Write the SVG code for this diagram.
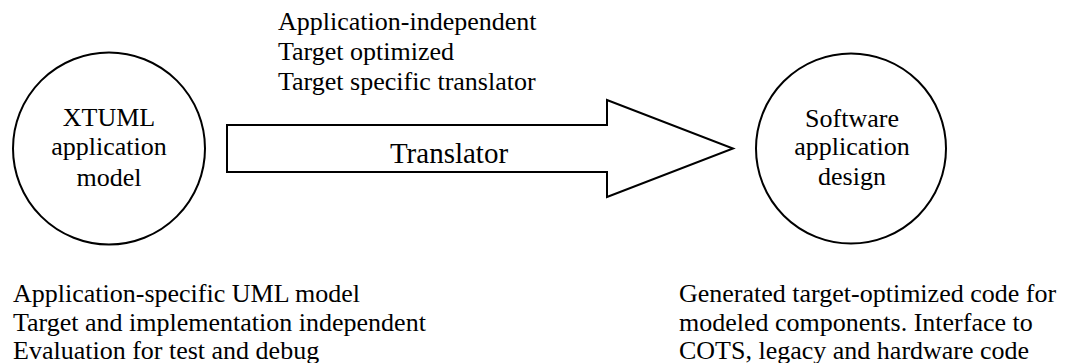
<svg xmlns="http://www.w3.org/2000/svg" width="1075" height="363" viewBox="0 0 1075 363">
<style>
.shape{fill:#fff;stroke:#000;stroke-width:2}
</style>
<rect width="1075" height="363" fill="#fff"/>
<g id="node-xtuml">
<circle class="shape" cx="109" cy="148.5" r="96"/>
<text font-family="Liberation Serif" font-size="26" text-anchor="middle" x="109" y="126">XTUML</text>
<text font-family="Liberation Serif" font-size="26" text-anchor="middle" x="109" y="155">application</text>
<text font-family="Liberation Serif" font-size="26" text-anchor="middle" x="109" y="186">model</text>
</g>
<g id="node-software">
<circle class="shape" cx="851" cy="148.5" r="95"/>
<text font-family="Liberation Serif" font-size="26" text-anchor="middle" x="852" y="127">Software</text>
<text font-family="Liberation Serif" font-size="26" text-anchor="middle" x="852" y="155">application</text>
<text font-family="Liberation Serif" font-size="26" text-anchor="middle" x="852" y="185">design</text>
</g>
<g id="connectors">
<g id="translator-arrow">
<path class="shape" d="M227,125 H607 V100 L733,148.5 L607,197 V172 H227 Z"/>
<text font-family="Liberation Serif" font-size="29" text-anchor="middle" x="449" y="163">Translator</text>
</g>
</g>
<g id="label-translator-notes">
<text font-family="Liberation Serif" font-size="26" x="278" y="30">Application-independent</text>
<text font-family="Liberation Serif" font-size="26" x="278" y="60">Target optimized</text>
<text font-family="Liberation Serif" font-size="26" x="278" y="90">Target specific translator</text>
</g>
<g id="label-model-notes">
<text font-family="Liberation Serif" font-size="26" x="13" y="302">Application-specific UML model</text>
<text font-family="Liberation Serif" font-size="26" x="13" y="331">Target and implementation independent</text>
<text font-family="Liberation Serif" font-size="26" x="13" y="359">Evaluation for test and debug</text>
</g>
<g id="label-design-notes">
<text font-family="Liberation Serif" font-size="26" x="679" y="302">Generated target-optimized code for</text>
<text font-family="Liberation Serif" font-size="26" x="679" y="331">modeled components. Interface to</text>
<text font-family="Liberation Serif" font-size="26" x="679" y="359">COTS, legacy and hardware code</text>
</g>
</svg>
